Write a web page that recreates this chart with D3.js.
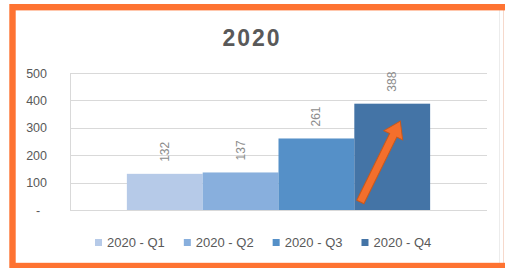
<!DOCTYPE html>
<html>
<head>
<meta charset="utf-8">
<script src="https://cdn.jsdelivr.net/npm/d3@7"></script>
<style>
  html, body { margin: 0; padding: 0; background: #fff; }
  svg { display: block; font-family: "Liberation Sans", Arial, sans-serif; }
</style>
</head>
<body>
<svg id="chart" width="505" height="268"></svg>
<script>
// chart data
var title = "2020";
var quarters = ["2020 - Q1", "2020 - Q2", "2020 - Q3", "2020 - Q4"];
var values = [132, 137, 261, 388];
var yTicks = [0, 100, 200, 300, 400, 500];
var yTickLabels = ["-", "100", "200", "300", "400", "500"];
var barColors = ["#b6cae8", "#88afdd", "#5590c8", "#4474a6"];

var svg = d3.select("#chart");

// plot box
var plot = { left: 70, right: 487, top: 73, bottom: 210 };

var x = d3.scaleBand()
  .domain(quarters)
  .range([plot.left, plot.right])
  .paddingInner(0)
  .paddingOuter(0.75);

var y = d3.scaleLinear()
  .domain([0, 500])
  .range([plot.bottom, plot.top]);

// faint chart border lines on the right
svg.append("line").attr("x1", 499.5).attr("x2", 499.5).attr("y1", 10).attr("y2", 263)
  .attr("stroke", "#ececec").attr("stroke-width", 1);
svg.append("line").attr("x1", 503.5).attr("x2", 503.5).attr("y1", 10).attr("y2", 263)
  .attr("stroke", "#f6d9cc").attr("stroke-width", 1);

// title
svg.append("text")
  .attr("x", 252).attr("y", 46)
  .attr("text-anchor", "middle")
  .attr("font-size", 23).attr("font-weight", "bold")
  .attr("letter-spacing", 2)
  .attr("fill", "#595959")
  .text(title);

// gridlines
svg.append("g").selectAll("line").data(yTicks).enter().append("line")
  .attr("x1", plot.left).attr("x2", plot.right)
  .attr("y1", function(d) { return Math.round(y(d)) + 0.5; })
  .attr("y2", function(d) { return Math.round(y(d)) + 0.5; })
  .attr("stroke", "#d9d9d9").attr("stroke-width", 1);

// left axis line
svg.append("line")
  .attr("x1", plot.left + 0.5).attr("x2", plot.left + 0.5)
  .attr("y1", y(500)).attr("y2", y(0))
  .attr("stroke", "#d9d9d9");

// y tick labels
svg.append("g").selectAll("text").data(yTicks).enter().append("text")
  .attr("x", function(d, i) { return i === 0 ? 38 : 47; })
  .attr("y", function(d) { return y(d) + 4.5; })
  .attr("text-anchor", function(d, i) { return i === 0 ? "middle" : "end"; })
  .attr("font-size", 12.5)
  .attr("fill", "#595959")
  .text(function(d, i) { return yTickLabels[i]; });

// bars
svg.append("g").selectAll("rect").data(values).enter().append("rect")
  .attr("x", function(d, i) { return x(quarters[i]); })
  .attr("y", function(d) { return y(d); })
  .attr("width", x.bandwidth())
  .attr("height", function(d) { return y(0) - y(d); })
  .attr("fill", function(d, i) { return barColors[i]; });

// value labels, rotated
svg.append("g").selectAll("text").data(values).enter().append("text")
  .attr("transform", function(d, i) {
    var cx = x(quarters[i]) + x.bandwidth() / 2 + 4;
    var cy = y(d) - 12;
    return "translate(" + cx + "," + cy + ") rotate(-90)";
  })
  .attr("font-size", 12)
  .attr("fill", "#8c8c8c")
  .text(function(d) { return d; });

// orange arrow over the last bar
var q4 = quarters[3];
var tail = [x(q4) + 6, y(0) - 8];
var tip = [x(q4) + 46, y(325)];
var dx = tip[0] - tail[0], dy = tip[1] - tail[1];
var len = Math.sqrt(dx * dx + dy * dy);
var ang = Math.atan2(dy, dx) * 180 / Math.PI;
var shaftW = 8, headW = 21, headL = 16;
var arrowPts = [
  [0, -shaftW / 2], [len - headL, -shaftW / 2], [len - headL, -headW / 2],
  [len, 0],
  [len - headL, headW / 2], [len - headL, shaftW / 2], [0, shaftW / 2]
];
svg.append("polygon")
  .attr("points", arrowPts.map(function(p) { return p.join(","); }).join(" "))
  .attr("transform", "translate(" + tail[0] + "," + tail[1] + ") rotate(" + ang + ")")
  .attr("fill", "#f46f2c")
  .attr("stroke", "#c9581b")
  .attr("stroke-width", 1);

// legend
var legend = svg.append("g");
var lx = 95, ly = 243;
quarters.forEach(function(q, i) {
  legend.append("rect")
    .attr("x", lx).attr("y", ly - 4)
    .attr("width", 7).attr("height", 7)
    .attr("fill", barColors[i]);
  var t = legend.append("text")
    .attr("x", lx + 12).attr("y", ly + 4)
    .attr("font-size", 13)
    .attr("fill", "#595959")
    .text(q);
  lx += 12 + t.node().getComputedTextLength() + 19;
});

// orange frame
svg.append("rect")
  .attr("x", 12.5).attr("y", 7.2)
  .attr("width", 520).attr("height", 258.8)
  .attr("fill", "none")
  .attr("stroke", "#fe7332")
  .attr("stroke-width", 6.4);
</script>
</body>
</html>
